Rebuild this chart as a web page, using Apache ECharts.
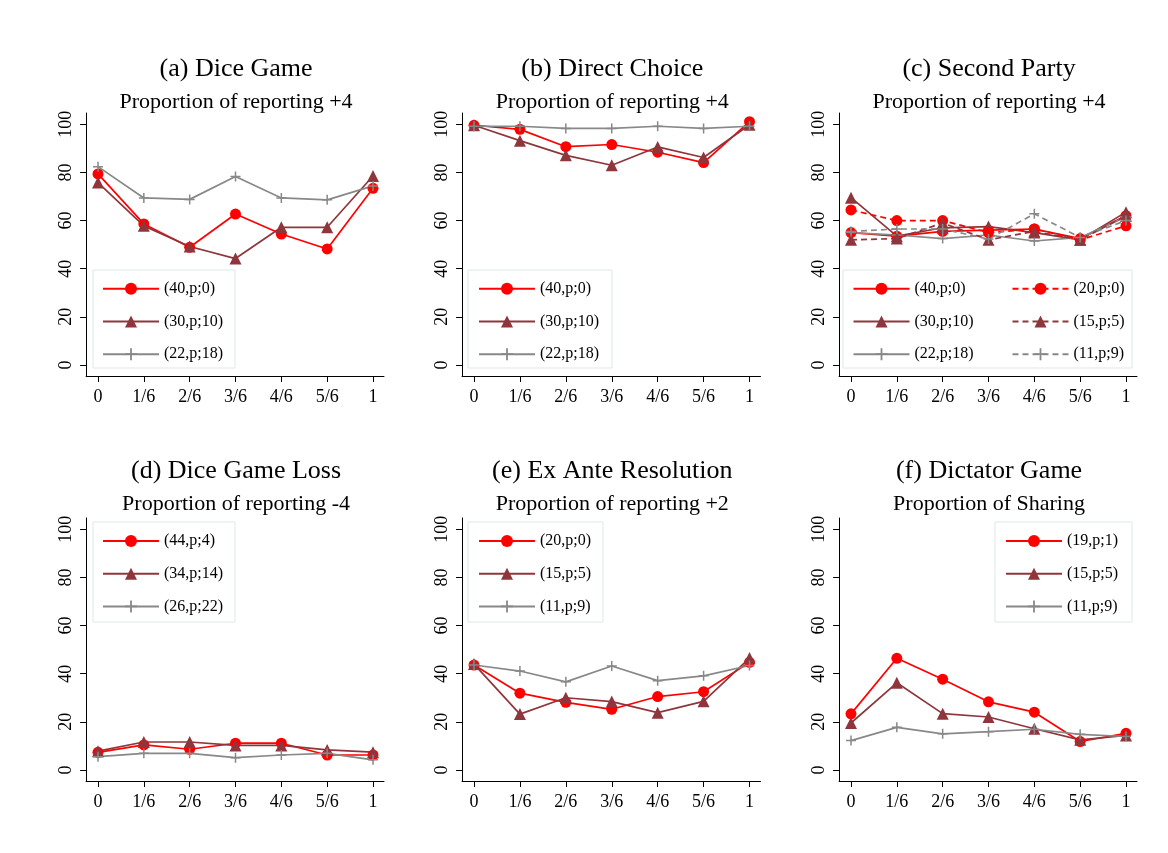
<!DOCTYPE html>
<html><head><meta charset="utf-8">
<script src="https://cdn.jsdelivr.net/npm/echarts@6/dist/echarts.min.js"></script>
<style>html,body{margin:0;padding:0;background:#fff}#c{width:1168px;height:853px}</style>
</head><body><div id="c"></div>
<script>
// ---------- data ----------
const xLabels = ['0', '1/6', '2/6', '3/6', '4/6', '5/6', '1'];
const xIdx = [0, 1, 2, 3, 4, 5, 6];
const yTicks = [0, 20, 40, 60, 80, 100];

// (a) Dice Game
const a_40p0  = [79.4, 58.6, 48.9, 62.7, 54.4, 48.2, 73.4];
const a_30p10 = [75.8, 57.8, 49.2, 44.2, 57.2, 57.2, 78.5];
const a_22p18 = [82.4, 69.4, 68.8, 78.3, 69.4, 68.6, 74.4];
// (b) Direct Choice
const b_40p0  = [99.6, 97.9, 90.7, 91.6, 88.4, 84.1, 101.1];
const b_30p10 = [99.6, 93.2, 87.1, 83.0, 90.6, 86.2, 99.8];
const b_22p18 = [99.2, 99.2, 98.3, 98.3, 99.2, 98.3, 99.2];
// (c) Second Party
const c_40p0  = [55.0, 53.5, 55.5, 56.0, 56.5, 52.5, 62.0];
const c_30p10 = [69.5, 53.5, 57.0, 57.5, 55.0, 52.0, 63.5];
const c_22p18 = [55.0, 54.0, 52.5, 54.0, 51.5, 53.0, 61.5];
const c_20p0  = [64.4, 60.0, 60.0, 55.0, 56.5, 52.0, 57.8];
const c_15p5  = [52.0, 52.5, 59.0, 52.0, 55.5, 52.0, 62.0];
const c_11p9  = [55.5, 56.5, 56.5, 52.3, 62.8, 53.0, 60.0];
// (d) Dice Game Loss
const d_44p4  = [7.3, 10.4, 8.6, 11.1, 11.1, 6.2, 6.2];
const d_34p14 = [7.8, 11.6, 11.6, 10.2, 10.2, 8.3, 7.4];
const d_26p22 = [5.5, 6.9, 6.9, 5.1, 6.2, 6.9, 4.2];
// (e) Ex Ante Resolution
const e_20p0  = [43.6, 31.9, 28.1, 25.2, 30.5, 32.5, 44.7];
const e_15p5  = [44.0, 23.2, 30.0, 28.4, 23.8, 28.5, 46.5];
const e_11p9  = [43.6, 41.1, 36.6, 43.2, 37.1, 39.1, 43.4];
// (f) Dictator Game
const f_19p1  = [23.3, 46.4, 37.7, 28.3, 24.0, 11.8, 15.2];
const f_15p5  = [19.5, 36.2, 23.4, 22.0, 17.1, 12.5, 14.3];
const f_11p9  = [12.2, 17.7, 15.0, 15.9, 16.9, 14.8, 13.9];

// ---------- styles ----------
const FONT = 'Liberation Serif';
const STY = {
  red:    {color: '#ff0000', symbol: 'circle', size: 11},
  maroon: {color: '#8f363d', symbol: 'triangle', size: 12},
  gray:   {color: '#888888', symbol: 'path://M0,4.25H10V5.75H0Z M4.25,0H5.75V10H4.25Z', size: 10}
};

const panels = [
  {id: 'a', title: '(a) Dice Game', sub: 'Proportion of reporting +4', col: 0, row: 0,
   series: [['(40,p;0)', a_40p0, 'red', false], ['(30,p;10)', a_30p10, 'maroon', false], ['(22,p;18)', a_22p18, 'gray', false]],
   legends: [{left: 102, names: [0, 1, 2]}], box: [93, 270, 142, 98]},
  {id: 'b', title: '(b) Direct Choice', sub: 'Proportion of reporting +4', col: 1, row: 0,
   series: [['(40,p;0)', b_40p0, 'red', false], ['(30,p;10)', b_30p10, 'maroon', false], ['(22,p;18)', b_22p18, 'gray', false]],
   legends: [{left: 478, names: [0, 1, 2]}], box: [468, 270, 144, 98]},
  {id: 'c', title: '(c) Second Party', sub: 'Proportion of reporting +4', col: 2, row: 0,
   series: [['(40,p;0)', c_40p0, 'red', false], ['(30,p;10)', c_30p10, 'maroon', false], ['(22,p;18)', c_22p18, 'gray', false],
            ['(20,p;0)', c_20p0, 'red', true], ['(15,p;5)', c_15p5, 'maroon', true], ['(11,p;9)', c_11p9, 'gray', true]],
   legends: [{left: 852.5, names: [0, 1, 2]}, {left: 1011.5, names: [3, 4, 5]}], box: [843, 270, 289, 98]},
  {id: 'd', title: '(d) Dice Game Loss', sub: 'Proportion of reporting -4', col: 0, row: 1,
   series: [['(44,p;4)', d_44p4, 'red', false], ['(34,p;14)', d_34p14, 'maroon', false], ['(26,p;22)', d_26p22, 'gray', false]],
   legends: [{left: 102, names: [0, 1, 2]}], box: [93, 522, 142, 100]},
  {id: 'e', title: '(e) Ex Ante Resolution', sub: 'Proportion of reporting +2', col: 1, row: 1,
   series: [['(20,p;0)', e_20p0, 'red', false], ['(15,p;5)', e_15p5, 'maroon', false], ['(11,p;9)', e_11p9, 'gray', false]],
   legends: [{left: 478, names: [0, 1, 2]}], box: [468, 522, 135, 100]},
  {id: 'f', title: '(f) Dictator Game', sub: 'Proportion of Sharing', col: 2, row: 1,
   series: [['(19,p;1)', f_19p1, 'red', false], ['(15,p;5)', f_15p5, 'maroon', false], ['(11,p;9)', f_11p9, 'gray', false]],
   legends: [{left: 1005, names: [0, 1, 2]}], box: [995, 522, 137, 100]}
];

// layout: zero-tick and one-tick pixel positions per column; plot top per row
const colZero = [98, 474, 851];
const colOne = [373, 749.5, 1126];
const rowTop = [113, 518];
const plotH = 263;
const XMIN = -0.26, XMAX = 6.24, YMIN = -4.6, YMAX = 104.7;
const titleTop = [[56.5, 91], [458.5, 493.5]];
const legendTop = [280.8, 533];

const option = {animation: false, backgroundColor: '#fff',
  title: [], grid: [], xAxis: [], yAxis: [], series: [], legend: [], graphic: []};

panels.forEach((p, gi) => {
  const span = colOne[p.col] - colZero[p.col];
  const pxu = span / 6;
  const left = colZero[p.col] + XMIN * pxu;
  const width = (XMAX - XMIN) * pxu;
  const cx = left + width / 2 + 1;
  option.grid.push({left: left, top: rowTop[p.row], width: width, height: plotH, containLabel: false});
  const tStyle = {fontFamily: FONT, fontWeight: 'normal', color: '#000'};
  option.title.push({text: p.title, left: cx, top: titleTop[p.row][0], textAlign: 'center', textVerticalAlign: 'top', padding: 0,
    textStyle: Object.assign({fontSize: 26}, tStyle)});
  option.title.push({text: p.sub, left: cx, top: titleTop[p.row][1], textAlign: 'center', textVerticalAlign: 'top', padding: 0,
    textStyle: Object.assign({fontSize: 22}, tStyle)});
  option.xAxis.push({type: 'value', gridIndex: gi, min: XMIN, max: XMAX,
    axisLine: {show: true, onZero: false, lineStyle: {color: '#000', width: 1}},
    axisTick: {show: true, length: 6, customValues: xIdx, lineStyle: {color: '#000'}},
    axisLabel: {customValues: xIdx, margin: 12, color: '#000', fontFamily: FONT, fontSize: 18,
      formatter: v => xLabels[Math.round(v)]},
    splitLine: {show: false}});
  option.yAxis.push({type: 'value', gridIndex: gi, min: YMIN, max: YMAX,
    axisLine: {show: true, onZero: false, lineStyle: {color: '#000', width: 1}},
    axisTick: {show: true, length: 6, customValues: yTicks, lineStyle: {color: '#000'}},
    axisLabel: {customValues: yTicks, rotate: 90, margin: 11, color: '#000', fontFamily: FONT, fontSize: 18},
    splitLine: {show: false}});
  const names = [];
  p.series.forEach(s => {
    const st = STY[s[2]];
    const nm = p.id + '|' + s[0];
    names.push(nm);
    option.series.push({type: 'line', name: nm, xAxisIndex: gi, yAxisIndex: gi,
      data: xIdx.map((x, i) => [x, s[1][i]]),
      symbol: st.symbol, symbolSize: st.size, showAllSymbol: true,
      itemStyle: {color: st.color},
      lineStyle: {color: st.color, width: 1.7, type: s[3] ? [6, 4] : 'solid'},
      z: 2});
  });
  const b = p.box;
  option.graphic.push({type: 'rect', shape: {x: b[0], y: b[1], width: b[2], height: b[3]},
    style: {fill: '#fff', stroke: '#dbe9e7', lineWidth: 1}, z: 3});
  p.legends.forEach(lg => {
    option.legend.push({orient: 'vertical', left: lg.left, top: legendTop[p.row], padding: 0,
      itemWidth: 56, itemHeight: 15, itemGap: 16.7, itemTextGap: 8, selectedMode: false,
      data: lg.names.map(i => names[i]),
      formatter: n => n.split('|')[1],
      textStyle: {fontFamily: FONT, fontSize: 16, lineHeight: 15, color: '#000'}, z: 4});
  });
});

const chart = echarts.init(document.getElementById('c'), null, {renderer: 'canvas'});
chart.setOption(option);
</script>
</body></html>
